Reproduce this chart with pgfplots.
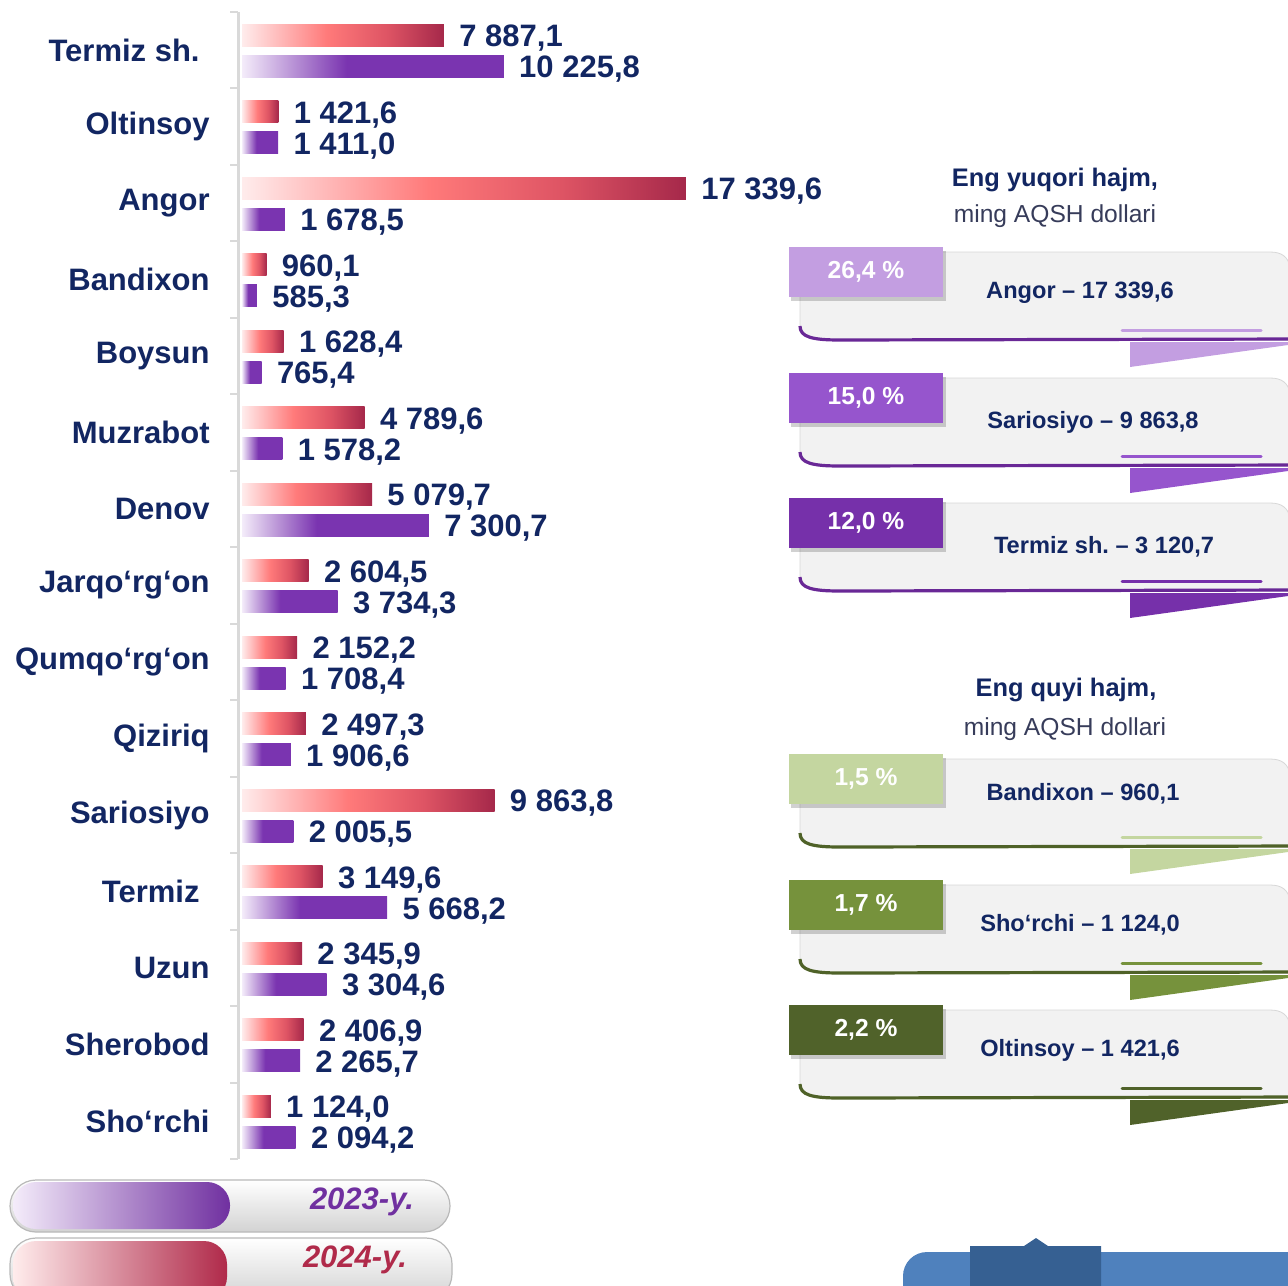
\documentclass[border=0pt]{standalone}
\usepackage{pgfplots}
\usepackage{pgfplotstable}
\pgfplotsset{compat=1.18}
\usepackage{fontspec}
\setmainfont{Liberation Sans}

\definecolor{navy}{RGB}{18,38,98}
\definecolor{subgray}{RGB}{55,60,90}
\definecolor{axgray}{RGB}{217,217,217}
\definecolor{redlt}{RGB}{255,236,236}
\definecolor{redmid}{RGB}{255,122,122}
\definecolor{redrd}{RGB}{222,84,100}
\definecolor{reddk}{RGB}{165,40,74}
\definecolor{purlt}{RGB}{244,236,250}
\definecolor{purmid}{RGB}{122,52,176}
\definecolor{leg23}{RGB}{112,48,160}
\definecolor{leg24}{RGB}{176,42,74}
\definecolor{boxfill}{RGB}{242,242,242}
\definecolor{boxedge}{RGB}{215,215,215}
\definecolor{tagA}{RGB}{195,158,225}
\definecolor{tagB}{RGB}{150,85,205}
\definecolor{tagC}{RGB}{118,48,170}
\definecolor{lineP}{RGB}{105,40,150}
\definecolor{tagD}{RGB}{196,214,160}
\definecolor{tagE}{RGB}{118,146,60}
\definecolor{tagF}{RGB}{80,98,42}
\definecolor{lineG}{RGB}{79,98,40}
\definecolor{blueA}{RGB}{79,129,189}
\definecolor{blueB}{RGB}{54,96,146}

\pgfdeclarehorizontalshading{redbar}{100bp}{color(0bp)=(redlt); color(25bp)=(redlt); color(46bp)=(redmid); color(61bp)=(redrd); color(75bp)=(reddk); color(100bp)=(reddk)}
\pgfdeclarehorizontalshading{purbar}{100bp}{color(0bp)=(purlt); color(25bp)=(purlt); color(45bp)=(purmid); color(100bp)=(purmid)}

% name, 2024, 2023 (ming AQSH dollari)
\pgfplotstableread[col sep=comma]{
name,y24,y23
Termiz sh.\hspace*{5pt},7887.1,10225.8
Oltinsoy,1421.6,1411.0
Angor,17339.6,1678.5
Bandixon,960.1,585.3
Boysun,1628.4,765.4
Muzrabot,4789.6,1578.2
Denov,5079.7,7300.7
Jarqo‘rg‘on,2604.5,3734.3
Qumqo‘rg‘on,2152.2,1708.4
Qiziriq,2497.3,1906.6
Sariosiyo,9863.8,2005.5
Termiz\hspace*{5pt},3149.6,5668.2
Uzun,2345.9,3304.6
Sherobod,2406.9,2265.7
Sho‘rchi,1124.0,2094.2
}\data

% #1 tag top, #2 tag colour, #3 line colour, #4 percent, #5 text, #6 text x, #7 text y
\newcommand{\infobox}[7]{%
  \filldraw[fill=boxfill, draw=boxedge, line width=0.4pt]
    (800,{#1+80}) -- (800,{#1+5}) -- (1270,{#1+5})
    .. controls (1282,{#1+5}) and (1288,{#1+10}) .. (1290,{#1+20})
    -- (1300,{#1+93}) -- (835,{#1+93}) .. controls (810,{#1+93}) and (800,{#1+88}) .. cycle;
  \fill[#2] (1130,{#1+95}) -- (1300,{#1+95}) -- (1288,{#1+98}) -- (1130,{#1+120}) -- cycle;
  \draw[#3, line width=1.6pt] (800,{#1+79}) .. controls (800,{#1+90}) and (812,{#1+93}) .. (840,{#1+93}) -- (1300,{#1+92});
  \draw[#2, line width=1.5pt, line cap=round] (1122,{#1+83}) -- (1261,{#1+83});
  \fill[black, opacity=0.18] (791,{#1+4}) rectangle (946,{#1+54});
  \fill[#2] (789,#1) rectangle (943,{#1+50});
  \node[text=white, font=\fontsize{12.3}{14}\selectfont\bfseries] at (866,{#1+25}) {#4};
  \node[text=navy, font=\fontsize{11.8}{14}\selectfont\bfseries] at (#6,#7) {#5};
}

\begin{document}
\frenchspacing
\begin{tikzpicture}
\useasboundingbox (0pt,0pt) rectangle (644pt,-642.5pt);

\begin{axis}[
  at={(119pt,-5.875pt)}, anchor=north west,
  scale only axis, width=232.45pt, height=573.75pt,
  xbar, bar width=11pt, bar shift=0pt,
  xmin=-156.2, xmax=18000,
  ymin=-0.5, ymax=14.5, y dir=reverse,
  axis x line=none,
  axis y line*=left,
  y axis line style={draw=axgray, line width=1.5pt, -},
  ytick={0,...,14},
  yticklabels from table={\data}{name},
  minor ytick={-0.5,0.5,...,14.5},
  major tick length=0pt, minor tick length=4pt, tick align=outside,
  minor tick style={draw=axgray, line width=1.2pt},
  yticklabel style={font=\fontsize{15.5}{18}\selectfont\bfseries, text=navy, inner sep=0pt, xshift=-14pt},
  point meta=x,
  nodes near coords,
  every node near coord/.append style={font=\fontsize{15.5}{18}\selectfont\bfseries, text=navy, anchor=west, inner sep=0pt, text depth=0pt, xshift=7.5pt, yshift=-0.5pt},
  /pgf/number format/fixed,
  /pgf/number format/fixed zerofill,
  /pgf/number format/precision=1,
  /pgf/number format/use comma,
  /pgf/number format/1000 sep={\ },
  /pgf/number format/assume math mode=true,
  clip=false,
]
% one plot per bar, so that each bar gets its own gradient
\pgfplotsinvokeforeach{0,...,14}{
  \addplot[shade, shading=redbar, draw=none, restrict expr to domain={\coordindex}{#1:#1}]
    table[x=y24, y expr=\coordindex-0.196] {\data};
  \addplot[shade, shading=purbar, draw=none, restrict expr to domain={\coordindex}{#1:#1}]
    table[x=y23, y expr=\coordindex+0.209] {\data};
}
\end{axis}

\begin{scope}[x=0.5pt,y=-0.5pt]
% top panel
\node[text=navy, font=\fontsize{12.7}{15}\selectfont\bfseries] at (1055,180) {Eng yuqori hajm,};
\node[text=subgray, font=\fontsize{12.3}{15}\selectfont] at (1055,216) {ming AQSH dollari};
\infobox{247}{tagA}{lineP}{26,4 \%}{Angor – 17 339,6}{1080}{293}
\infobox{373}{tagB}{lineP}{15,0 \%}{Sariosiyo – 9 863,8}{1093}{422}
\infobox{498}{tagC}{lineP}{12,0 \%}{Termiz sh. – 3 120,7}{1104}{547}
% bottom panel
\node[text=navy, font=\fontsize{12.7}{15}\selectfont\bfseries] at (1066,690) {Eng quyi hajm,};
\node[text=subgray, font=\fontsize{12.3}{15}\selectfont] at (1065,729) {ming AQSH dollari};
\infobox{754}{tagD}{lineG}{1,5 \%}{Bandixon – 960,1}{1083}{794}
\infobox{880}{tagE}{lineG}{1,7 \%}{Sho‘rchi – 1 124,0}{1080}{925}
\infobox{1005}{tagF}{lineG}{2,2 \%}{Oltinsoy – 1 421,6}{1080}{1050}

% legend pills
\shade[rounded corners=13pt, top color=white, bottom color=gray!35, draw=gray!55, line width=0.6pt] (10,1180) rectangle (450,1232);
\shade[rounded corners=11.5pt, left color=purlt, right color=leg23] (13,1182) rectangle (230,1229);
\node[text=leg23, font=\fontsize{15.5}{18}\selectfont\bfseries\itshape] at (362,1202) {2023-y.};
\shade[rounded corners=13pt, top color=white, bottom color=gray!35, draw=gray!55, line width=0.6pt] (10,1238) rectangle (452,1300);
\shade[rounded corners=11.5pt, left color=redlt, right color=leg24] (13,1241) rectangle (227,1300);
\node[text=leg24, font=\fontsize{15.5}{18}\selectfont\bfseries\itshape] at (355,1260) {2024-y.};

% bottom-right decoration
\fill[blueA, rounded corners=12pt] (903,1310) -- (903,1252) -- (1310,1252) -- (1310,1310) -- cycle;
\fill[blueB] (970,1290) -- (970,1246) -- (1024,1246) -- (1036,1238) -- (1048,1246) -- (1101,1246) -- (1101,1290) -- cycle;
\end{scope}
\end{tikzpicture}
\end{document}
